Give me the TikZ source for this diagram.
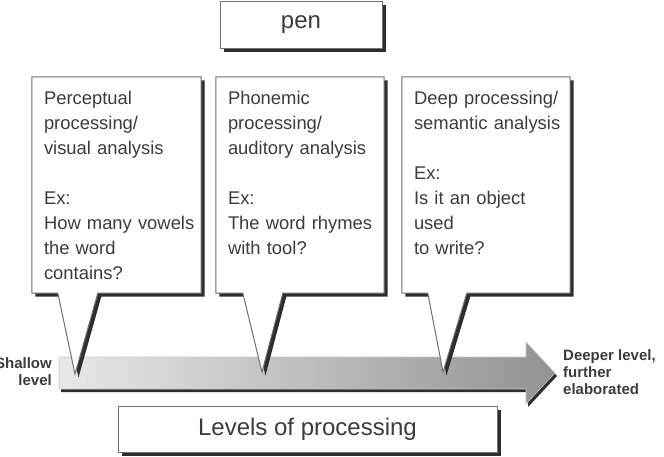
\documentclass[tikz,border=0pt]{standalone}
\usepackage{fontspec}
\setmainfont{Liberation Sans}
\usetikzlibrary{positioning,shadows}
\definecolor{txtgray}{HTML}{3C3C3C}
\definecolor{edgegray}{HTML}{707070}
\definecolor{shadowgray}{HTML}{2E2E2E}
\tikzset{
  panel/.style={draw=edgegray, line width=1pt, fill=white,
    drop shadow={shadow xshift=3.5pt, shadow yshift=-3.5pt, fill=shadowgray, opacity=1}},
  boxtext/.style={font=\fontsize{18.4}{25}\selectfont, text=txtgray, align=left,
    inner sep=0pt, text width=160pt},
  titletext/.style={font=\fontsize{24}{28}\selectfont, text=txtgray},
  sidetext/.style={font=\bfseries\fontsize{15}{17}\selectfont, text=txtgray, inner sep=0pt},
}
\begin{document}
\begin{tikzpicture}[x=1pt,y=-1pt]
\useasboundingbox (0,0) rectangle (664,456);
% word on top
\node[panel, titletext, minimum width=162pt, minimum height=47pt, inner sep=0pt] (word) at (301,25) {pen};
% depth arrow
\draw[draw=gray!45, line width=.6pt, left color=gray!18, right color=gray!85,
  drop shadow={shadow xshift=2pt, shadow yshift=-3pt, fill=shadowgray, opacity=1}]
  (59,357) -- (526,357) -- (526,342) -- (555,373) -- (526,404) -- (526,389) -- (59,389) -- cycle;
\node[sidetext, align=right, anchor=east] (shallow) at (52,372) {Shallow\\level};
\node[sidetext, align=left, anchor=west] (deeper) at (563,372) {Deeper level,\\further\\elaborated};
% callouts
\node[minimum width=169pt, minimum height=216pt, inner sep=0pt] (perc) at (116.5,185) {};
\coordinate (perc tip) at (75,374);
\draw[panel] (perc.north west) -- (perc.north east) -- (perc.south east) -- ([xshift=66pt]perc.south west)
  -- (perc tip) -- ([xshift=26pt]perc.south west) -- (perc.south west) -- cycle;
\node[boxtext, below right=14pt and 12pt of perc.north west] (perc text)
  {Perceptual\\processing/\\visual analysis\\[25pt]Ex:\\How many vowels\\the word\\contains?};
\node[minimum width=168pt, minimum height=216pt, inner sep=0pt] (phon) at (300,185) {};
\coordinate (phon tip) at (262,372);
\draw[panel] (phon.north west) -- (phon.north east) -- (phon.south east) -- ([xshift=67pt]phon.south west)
  -- (phon tip) -- ([xshift=27pt]phon.south west) -- (phon.south west) -- cycle;
\node[boxtext, below right=14pt and 12pt of phon.north west] (phon text)
  {Phonemic\\processing/\\auditory analysis\\[25pt]Ex:\\The word rhymes\\with tool?};
\node[minimum width=168pt, minimum height=216pt, inner sep=0pt] (deep) at (486,185) {};
\coordinate (deep tip) at (443,372);
\draw[panel] (deep.north west) -- (deep.north east) -- (deep.south east) -- ([xshift=65pt]deep.south west)
  -- (deep tip) -- ([xshift=26pt]deep.south west) -- (deep.south west) -- cycle;
\node[boxtext, below right=14pt and 12pt of deep.north west] (deep text)
  {Deep processing/\\semantic analysis\\[25pt]Ex:\\Is it an object\\used\\to write?};
% caption box
\node[panel, titletext, minimum width=379pt, minimum height=46pt, inner sep=0pt] (levels) at (307.5,429) {Levels of processing};
\end{tikzpicture}
\end{document}
